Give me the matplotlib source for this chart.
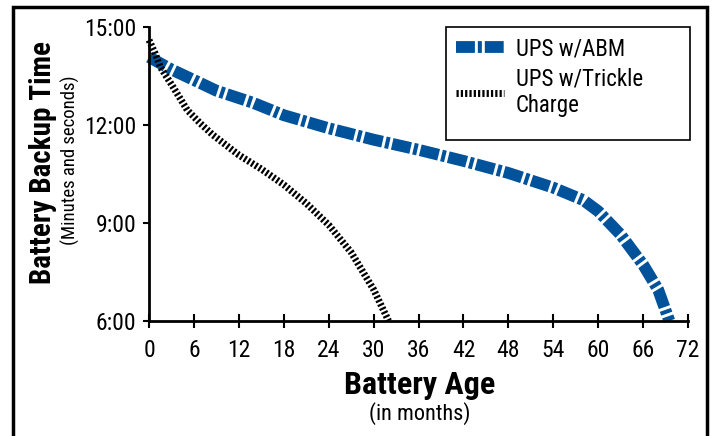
import matplotlib
matplotlib.use('Agg')
import matplotlib.pyplot as plt
from matplotlib.patches import Rectangle
from matplotlib import font_manager

# Data (months, minutes)
abm_months = [0, 3, 6.8, 9, 13.9, 18, 24, 30, 36, 42, 48, 54, 58, 60, 63, 66, 68, 69.5]
abm_minutes = [14.08, 13.7, 13.29, 13.05, 12.68, 12.3, 11.9, 11.55, 11.24, 10.9, 10.53,
               10.08, 9.7, 9.36, 8.64, 7.72, 6.96, 6.0]

trickle_months = [0, 0.8, 1.5, 3.2, 5.1, 6.8, 8.5, 12, 15, 18, 21, 24, 27, 30, 32]
trickle_minutes = [14.6, 14.2, 13.78, 13.17, 12.46, 12.06, 11.7, 11.08, 10.65, 10.17, 9.6,
                   8.94, 8.1, 6.96, 6.0]

x_ticks = list(range(0, 73, 6))
y_ticks = [6, 9, 12, 15]
y_labels = ['6:00', '9:00', '12:00', '15:00']

# Condensed font, whichever is installed
names = set(f.name for f in font_manager.fontManager.ttflist)
FONT = 'DejaVu Sans'
for cand in ['Roboto Condensed', 'Archivo Narrow', 'PT Sans Narrow', 'Oswald',
             'Liberation Sans Narrow', 'Open Sans Condensed']:
    if cand in names:
        FONT = cand
        break
plt.rcParams['font.family'] = [FONT, 'DejaVu Sans']

BLUE = '#00529b'

fig = plt.figure(figsize=(7.13, 4.36), dpi=100)
ax = fig.add_axes([0.209, 0.264, 0.756, 0.674])

ax.plot(abm_months, abm_minutes, color=BLUE, lw=8.5, dashes=(1.6, 0.25, 0.34, 0.25),
        solid_capstyle='butt', dash_capstyle='butt', label='UPS w/ABM', clip_on=False)
ax.plot(trickle_months, trickle_minutes, color='black', lw=5, dashes=(0.32, 0.3),
        dash_capstyle='butt', label='UPS w/Trickle\nCharge', clip_on=False)

ax.set_xlim(0, 72)
ax.set_ylim(6, 15)
ax.set_xticks(x_ticks)
ax.set_yticks(y_ticks)
ax.set_yticklabels(y_labels)
for s in ['top', 'right']:
    ax.spines[s].set_visible(False)
for s in ['left', 'bottom']:
    ax.spines[s].set_linewidth(2)
ax.tick_params(axis='x', direction='inout', length=10, width=1.5, labelsize=17, pad=8)
ax.tick_params(axis='y', direction='out', length=4, width=1.5, labelsize=17, pad=5)

# Legend box drawn by hand (wide box, text at left)
ax.add_patch(Rectangle((0.551, 0.616), 0.453, 0.384, transform=ax.transAxes,
                       fill=True, facecolor='white', edgecolor='black', lw=1.2,
                       clip_on=False, zorder=4))
leg = ax.legend(loc='upper left', bbox_to_anchor=(0.551, 1.0), borderaxespad=0,
                fontsize=16.5, frameon=False, handlelength=2.1, labelspacing=0.3,
                borderpad=0.45, handletextpad=0.5)
leg.set_zorder(5)

# Axis titles
fig.text(0.06, 0.628, 'Battery Backup Time', rotation=90, ha='center', va='center',
         fontsize=21, fontweight='bold')
fig.text(0.099, 0.633, '(Minutes and seconds)', rotation=90, ha='center', va='center',
         fontsize=13.5)
fig.text(0.589, 0.117, 'Battery Age', ha='center', va='center', fontsize=23,
         fontweight='bold')
fig.text(0.589, 0.052, '(in months)', ha='center', va='center', fontsize=16)

# Outer frame
fig.patches.append(Rectangle((0.018, -0.1), 0.973, 1.084, transform=fig.transFigure,
                             fill=False, edgecolor='black', lw=2.5, clip_on=False))

fig.savefig('out.png', dpi=100)
